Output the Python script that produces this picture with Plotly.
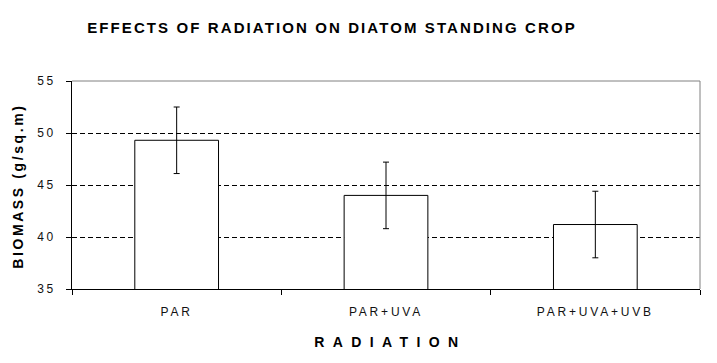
import plotly.graph_objects as go

categories = ["PAR", "PAR+UVA", "PAR+UVA+UVB"]
biomass = [49.3, 44.0, 41.2]
error = [3.2, 3.2, 3.2]
y_ticks = [35, 40, 45, 50, 55]

FONT = "Liberation Sans, Arial, sans-serif"

fig = go.Figure()
fig.add_trace(go.Bar(
    x=categories, y=biomass, width=0.4,
    marker=dict(color="white", line=dict(color="black", width=1)),
    error_y=dict(type="data", array=error, visible=True, color="black", thickness=1, width=3),
    showlegend=False,
))

fig.update_layout(
    width=717, height=363,
    margin=dict(l=72, r=17, t=81, b=74),
    paper_bgcolor="white", plot_bgcolor="white",
    font=dict(family=FONT, color="black"),
    title=dict(text="<b>EFFECTS OF RADIATION ON DIATOM STANDING CROP</b>",
               x=332/717, xanchor="center", xref="container",
               y=1-28/363, yanchor="middle", yref="container",
               font=dict(family=FONT, size=15, color="black")),
)

fig.update_xaxes(
    type="category", tickson="boundaries",
    showline=True, linecolor="black", linewidth=1,
    ticks="outside", ticklen=5, tickcolor="black",
    showgrid=False, tickfont=dict(size=12, color="#111"),
    ticklabelstandoff=12,
)
fig.update_yaxes(
    range=[35, 55], tickvals=y_ticks,
    showline=True, linecolor="black", linewidth=1,
    ticks="outside", ticklen=5, tickcolor="black",
    showgrid=True, gridcolor="black", gridwidth=1, griddash="5px,3px",
    tickfont=dict(size=12, color="#111"),
    ticklabelstandoff=8, zeroline=False,
)

fig.add_shape(type="path", path="M 0,1 L 1,1 L 1,0", xref="paper", yref="paper",
              line=dict(color="#808080", width=1), layer="above")

fig.add_annotation(text="<b>BIOMASS (g/sq.m)</b>", textangle=-90,
                   x=(18-72)/628, y=(289-186)/208, xref="paper", yref="paper",
                   xanchor="center", yanchor="middle", showarrow=False,
                   font=dict(family=FONT, size=14, color="black"))
fig.add_annotation(text="<b>RADIATION</b>",
                   x=(390-72)/628, y=(289-342)/208, xref="paper", yref="paper",
                   xanchor="center", yanchor="middle", showarrow=False,
                   font=dict(family=FONT, size=14, color="black"))

post = """
var s = document.createElement('style');
s.textContent = 'body{margin:0;} .gtitle{letter-spacing:2.1px;} '
 + '.xtick text{letter-spacing:2.8px;} .ytick text{letter-spacing:2.5px;} '
 + '.annotation[data-index="0"] text{letter-spacing:2.6px;} '
 + '.annotation[data-index="1"] text{letter-spacing:8.4px;}';
document.head.appendChild(s);
"""
fig.write_html("out.html", post_script=post, config={"displayModeBar": False})
